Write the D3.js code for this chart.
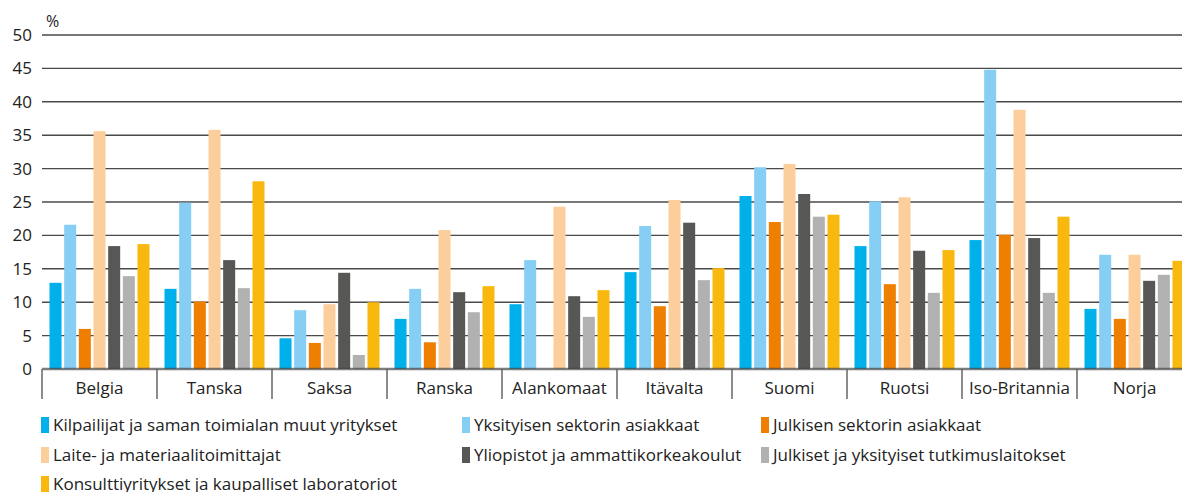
<!DOCTYPE html>
<html>
<head>
<meta charset="utf-8">
<script src="https://cdn.jsdelivr.net/npm/d3@7"></script>
<style>
  body { margin: 0; background: #fff; }
  svg { display: block; font-family: "Open Sans", "Noto Sans", sans-serif; }
</style>
</head>
<body>
<div id="chart"></div>
<script>
// countries on the x axis
var countries = ["Belgia", "Tanska", "Saksa", "Ranska", "Alankomaat", "Itävalta", "Suomi", "Ruotsi", "Iso-Britannia", "Norja"];

// series (legend order)
var series = [
  "Kilpailijat ja saman toimialan muut yritykset",
  "Yksityisen sektorin asiakkaat",
  "Julkisen sektorin asiakkaat",
  "Laite- ja materiaalitoimittajat",
  "Yliopistot ja ammattikorkeakoulut",
  "Julkiset ja yksityiset tutkimuslaitokset",
  "Konsulttiyritykset ja kaupalliset laboratoriot"
];
var colors = ["#00b0eb", "#87cef5", "#ef7f00", "#fbce9b", "#575756", "#b1b1b1", "#f9b80e"];

// values per series, one per country (null = no bar)
var kilpailijat  = [12.9, 12.0, 4.6, 7.5, 9.7, 14.5, 25.9, 18.4, 19.3, 9.0];
var yksityiset   = [21.6, 24.9, 8.8, 12.0, 16.3, 21.4, 30.2, 25.1, 44.8, 17.1];
var julkiset     = [6.0, 10.1, 3.9, 4.0, null, 9.4, 22.0, 12.7, 20.1, 7.5];
var toimittajat  = [35.6, 35.8, 9.7, 20.8, 24.3, 25.3, 30.7, 25.7, 38.8, 17.1];
var yliopistot   = [18.4, 16.3, 14.4, 11.5, 10.9, 21.9, 26.2, 17.7, 19.6, 13.2];
var tutkimus     = [13.9, 12.1, 2.1, 8.5, 7.8, 13.3, 22.8, 11.4, 11.4, 14.1];
var konsultit    = [18.7, 28.1, 10.0, 12.4, 11.8, 15.1, 23.1, 17.8, 22.8, 16.2];

var yTicks = [0, 5, 10, 15, 20, 25, 30, 35, 40, 45, 50];

var allValues = [kilpailijat, yksityiset, julkiset, toimittajat, yliopistot, tutkimus, konsultit];

var svgWidth = 1182;
var svgHeight = 492;

var svg = d3.select("#chart")
  .append("svg")
  .attr("width", svgWidth)
  .attr("height", svgHeight);

// scales
var x0 = d3.scaleBand()
  .domain(countries)
  .range([42, 1192]);

var x1 = d3.scaleBand()
  .domain(d3.range(series.length))
  .range([7.5, 107.5])
  .paddingInner(0.18);

var y = d3.scaleLinear()
  .domain([0, 50])
  .range([369, 35]);

// gridlines
svg.append("g")
  .selectAll("line")
  .data(yTicks.filter(d => d > 0))
  .enter()
  .append("line")
  .attr("x1", 42)
  .attr("x2", svgWidth)
  .attr("y1", d => y(d))
  .attr("y2", d => y(d))
  .attr("stroke", "#4a4a4a")
  .attr("stroke-width", 1.4);

// y axis labels
var yAxis = d3.axisLeft(y).tickValues(yTicks).tickSize(0).tickPadding(0);
var yG = svg.append("g")
  .attr("transform", "translate(32,0)")
  .call(yAxis);
yG.select(".domain").remove();
yG.selectAll("text")
  .attr("font-family", "Open Sans, Noto Sans, sans-serif")
  .attr("font-size", 17)
  .attr("fill", "#222");

svg.append("text")
  .attr("x", 46)
  .attr("y", 27)
  .attr("font-size", 16)
  .attr("fill", "#222")
  .text("%");

// bars
var rows = countries.map((c, i) => ({
  country: c,
  vals: allValues.map((s, j) => ({ idx: j, value: s[i] }))
}));

var groups = svg.append("g")
  .selectAll("g")
  .data(rows)
  .enter()
  .append("g")
  .attr("transform", d => `translate(${x0(d.country)},0)`);

groups.selectAll("rect")
  .data(d => d.vals.filter(v => v.value != null))
  .enter()
  .append("rect")
  .attr("x", d => x1(d.idx))
  .attr("width", x1.bandwidth())
  .attr("y", d => y(d.value))
  .attr("height", d => y(0) - y(d.value))
  .attr("fill", d => colors[d.idx]);

// x axis line + category separators
svg.append("line")
  .attr("x1", 42)
  .attr("x2", svgWidth)
  .attr("y1", y(0))
  .attr("y2", y(0))
  .attr("stroke", "rgba(70,70,70,0.7)")
  .attr("stroke-width", 2.5);

svg.append("g")
  .selectAll("line")
  .data(countries)
  .enter()
  .append("line")
  .attr("x1", d => x0(d))
  .attr("x2", d => x0(d))
  .attr("y1", y(0))
  .attr("y2", 399)
  .attr("stroke", "#666")
  .attr("stroke-width", 1.5);

svg.append("g")
  .selectAll("text")
  .data(countries)
  .enter()
  .append("text")
  .attr("x", d => x0(d) + x0.bandwidth() / 2)
  .attr("y", 394)
  .attr("text-anchor", "middle")
  .attr("font-size", 17)
  .attr("fill", "#222")
  .text(d => d);

// legend
var legendPos = [
  [41, 425], [462, 425], [761, 425],
  [41, 455], [462, 455], [761, 455],
  [41, 484]
];

var legend = svg.append("g")
  .selectAll("g")
  .data(series)
  .enter()
  .append("g")
  .attr("transform", (d, i) => `translate(${legendPos[i][0]},${legendPos[i][1]})`);

legend.append("rect")
  .attr("x", 0)
  .attr("y", -8)
  .attr("width", 8)
  .attr("height", 16)
  .attr("fill", (d, i) => colors[i]);

legend.append("text")
  .attr("x", 12)
  .attr("y", 6)
  .attr("font-size", 17)
  .attr("fill", "#222")
  .text(d => d);
</script>
</body>
</html>
